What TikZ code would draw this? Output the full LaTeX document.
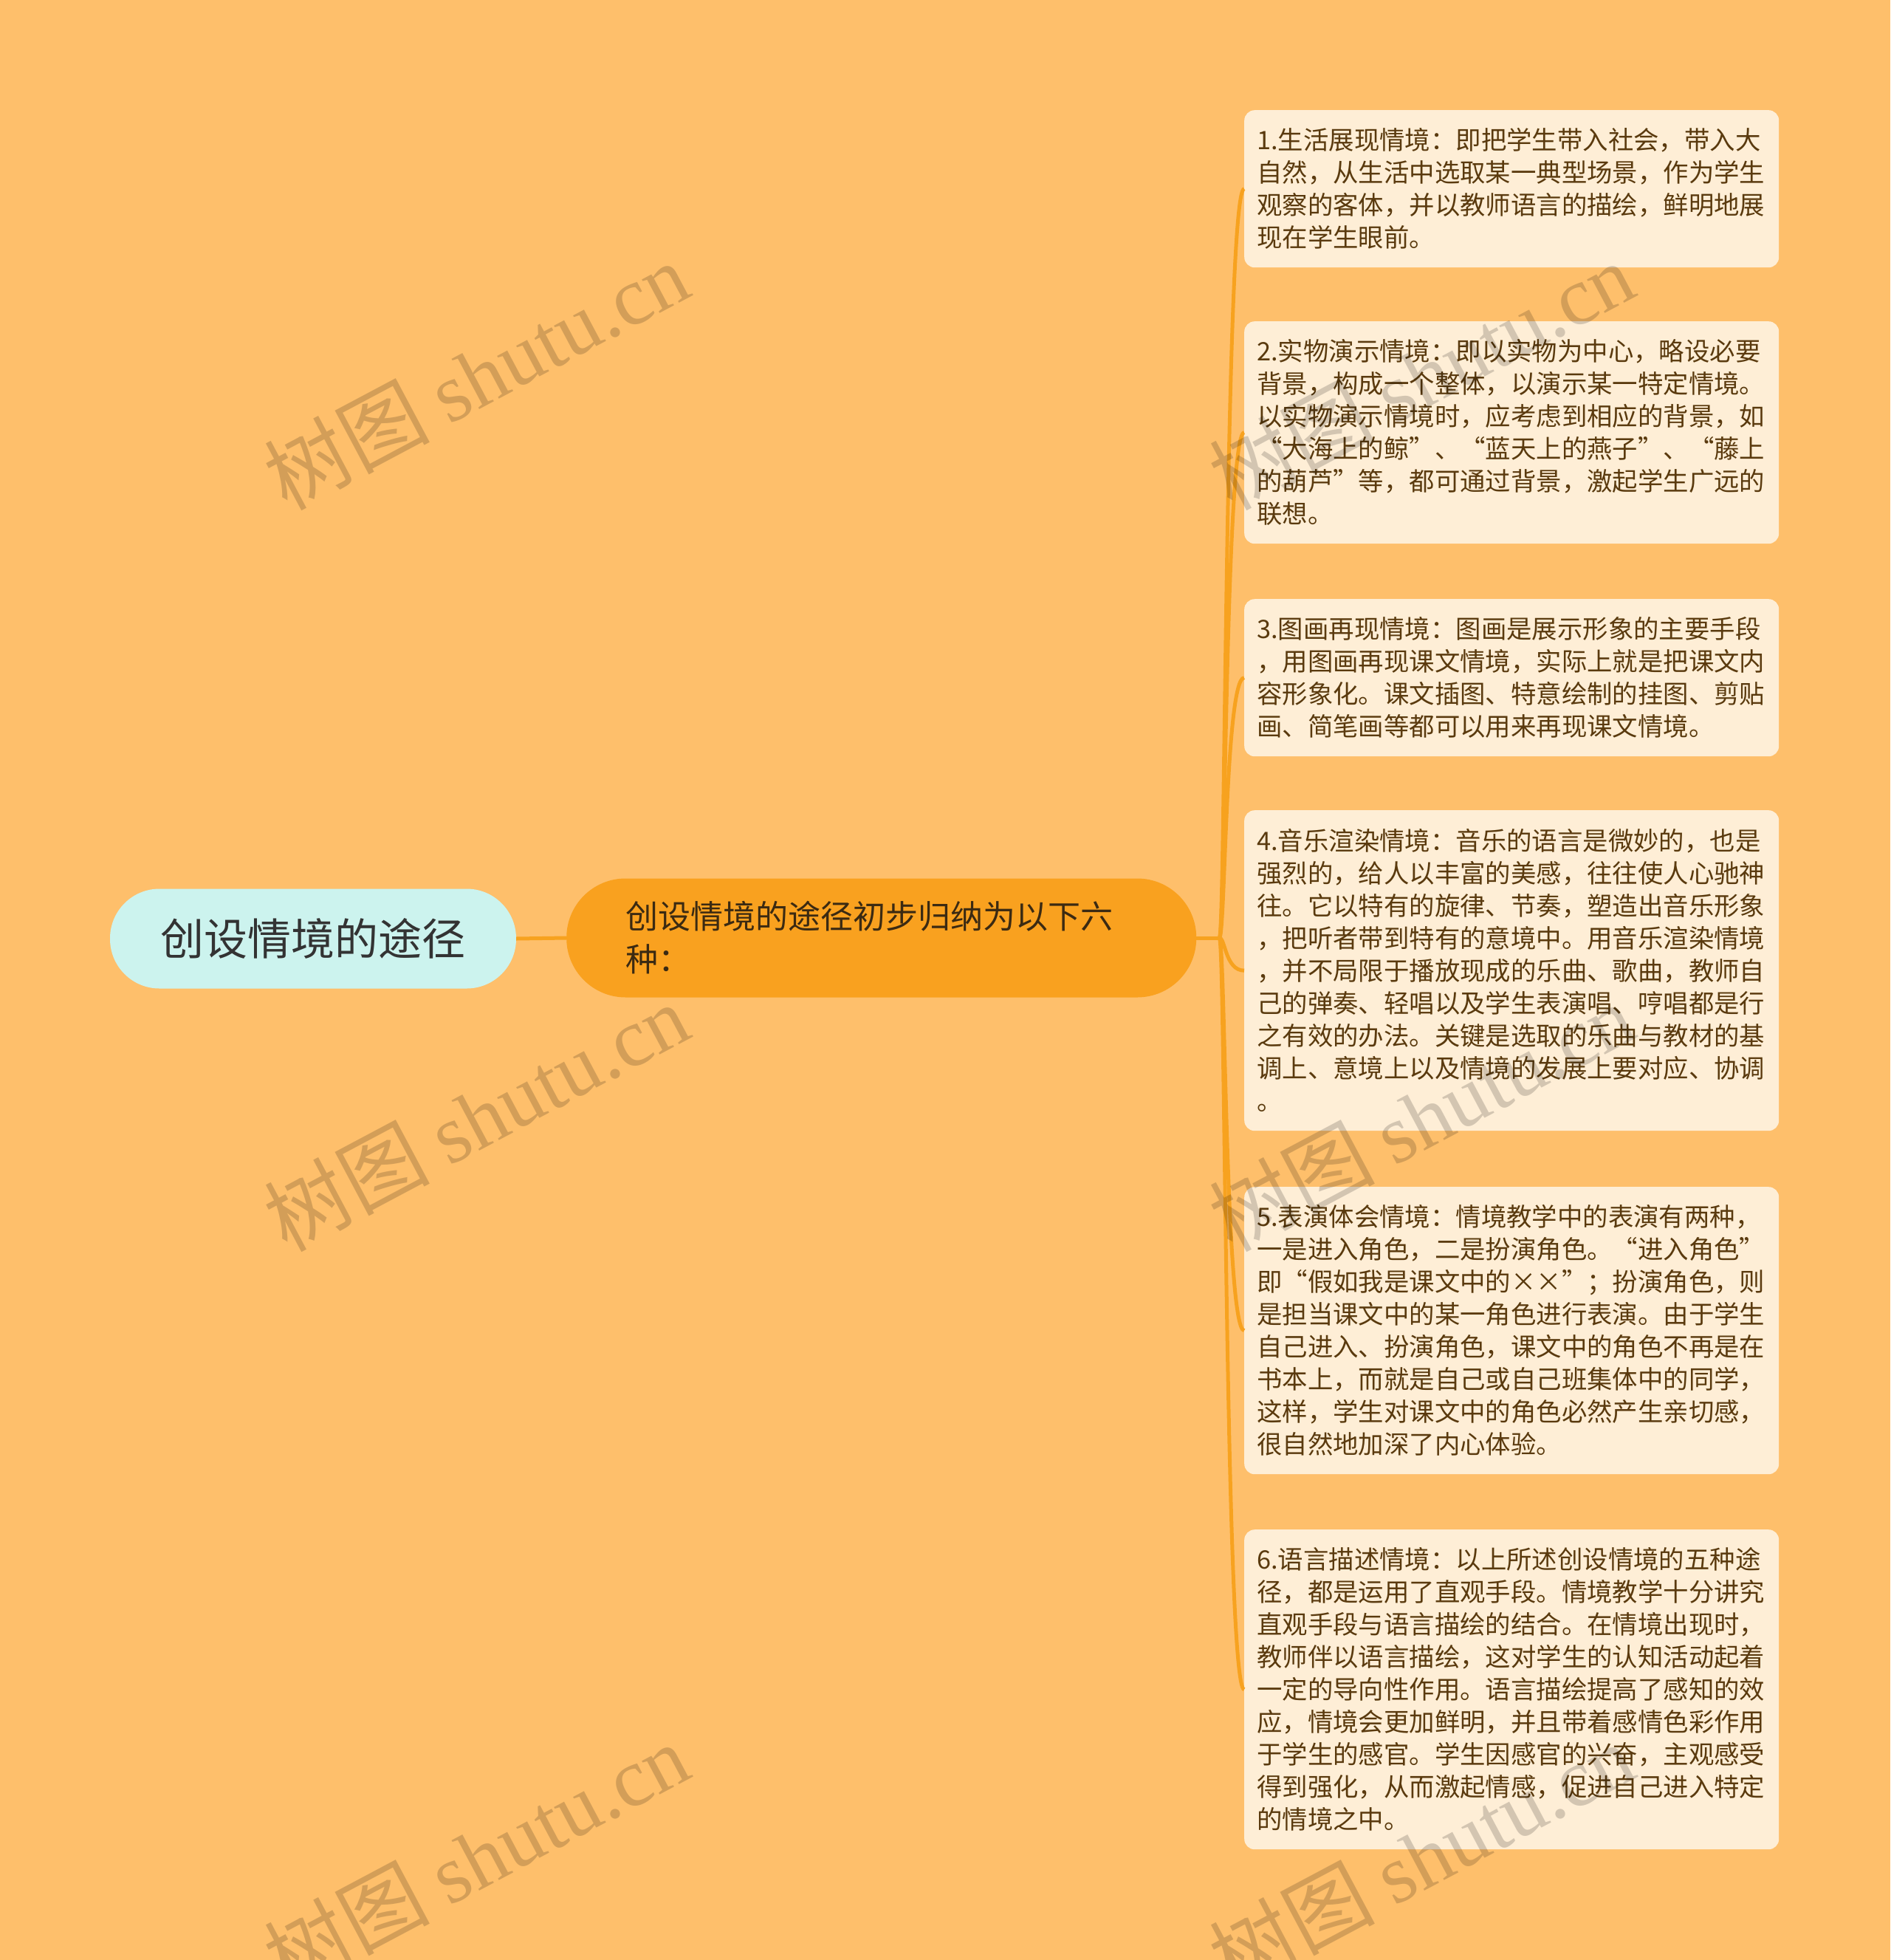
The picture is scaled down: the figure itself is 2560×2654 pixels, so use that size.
\documentclass[tikz,border=0pt]{standalone}
\usepackage{fontspec}
\setmainfont{Noto Sans CJK SC}
\newfontfamily\wmlatin{Liberation Serif}
\usetikzlibrary{calc}
\definecolor{bgc}{HTML}{FEBF6B}
\definecolor{midfill}{HTML}{F9A11F}
\definecolor{conn}{HTML}{F7A21F}
\definecolor{leaffill}{HTML}{FEEED6}
\definecolor{leaftext}{HTML}{5A3A0E}
\definecolor{rootfill}{HTML}{CCF3EE}
\definecolor{roottext}{HTML}{333333}
\definecolor{midtext}{HTML}{3B2A12}
\begin{document}
\begin{tikzpicture}[x=1pt,y=-1pt,
  leaf/.style={fill=leaffill, rounded corners=14pt, text width=690pt, inner xsep=17pt, inner ysep=0pt,
    align=left, font=\fontsize{34.4}{44}\selectfont, text=leaftext, anchor=north west},
  rootbox/.style={fill=rootfill, rounded corners=67pt, minimum width=550pt, minimum height=135pt,
    inner sep=0pt, font=\fontsize{59}{70}\selectfont, text=roottext},
  midbox/.style={fill=midfill, rounded corners=80pt, text width=693pt, inner xsep=80pt, inner ysep=0pt,
    minimum height=161pt, align=left, font=\fontsize{44}{58}\selectfont, text=midtext, anchor=west},
  link/.style={draw=conn, line width=5pt},
  wm/.style={rotate=28, text=black, text opacity=0.17, font=\fontsize{112}{120}\selectfont, inner sep=0pt}
]
\fill[bgc] (0,0) rectangle (2560,2654);
\useasboundingbox (0,0) rectangle (2560,2654);

% nodes
\node[rootbox] (root) at (424,1271) {创设情境的途径};
\node[midbox] (mid) at (767,1270) {创设情境的途径初步归纳为以下六\\种：};

\node[leaf, minimum height=213pt] (l1) at (1685,149) {1.生活展现情境：即把学生带入社会，带入大\\自然，从生活中选取某一典型场景，作为学生\\观察的客体，并以教师语言的描绘，鲜明地展\\现在学生眼前。};
\node[leaf, minimum height=301pt] (l2) at (1685,435) {2.实物演示情境：即以实物为中心，略设必要\\背景，构成一个整体，以演示某一特定情境。\\以实物演示情境时，应考虑到相应的背景，如\\“大海上的鲸”、“蓝天上的燕子”、“藤上\\的葫芦”等，都可通过背景，激起学生广远的\\联想。};
\node[leaf, minimum height=213pt] (l3) at (1685,811) {3.图画再现情境：图画是展示形象的主要手段\\，用图画再现课文情境，实际上就是把课文内\\容形象化。课文插图、特意绘制的挂图、剪贴\\画、简笔画等都可以用来再现课文情境。};
\node[leaf, minimum height=434pt] (l4) at (1685,1097) {4.音乐渲染情境：音乐的语言是微妙的，也是\\强烈的，给人以丰富的美感，往往使人心驰神\\往。它以特有的旋律、节奏，塑造出音乐形象\\，把听者带到特有的意境中。用音乐渲染情境\\，并不局限于播放现成的乐曲、歌曲，教师自\\己的弹奏、轻唱以及学生表演唱、哼唱都是行\\之有效的办法。关键是选取的乐曲与教材的基\\调上、意境上以及情境的发展上要对应、协调\\。};
\node[leaf, minimum height=389pt] (l5) at (1685,1607) {5.表演体会情境：情境教学中的表演有两种，\\一是进入角色，二是扮演角色。“进入角色”\\即“假如我是课文中的××”；扮演角色，则\\是担当课文中的某一角色进行表演。由于学生\\自己进入、扮演角色，课文中的角色不再是在\\书本上，而就是自己或自己班集体中的同学，\\这样，学生对课文中的角色必然产生亲切感，\\很自然地加深了内心体验。};
\node[leaf, minimum height=433pt] (l6) at (1685,2071) {6.语言描述情境：以上所述创设情境的五种途\\径，都是运用了直观手段。情境教学十分讲究\\直观手段与语言描绘的结合。在情境出现时，\\教师伴以语言描绘，这对学生的认知活动起着\\一定的导向性作用。语言描绘提高了感知的效\\应，情境会更加鲜明，并且带着感情色彩作用\\于学生的感官。学生因感官的兴奋，主观感受\\得到强化，从而激起情感，促进自己进入特定\\的情境之中。};

% connectors
\coordinate (j) at ($(mid.east)+(31,0)$);
\draw[link] (root.east) -- (mid.west);
\draw[link] (mid.east) -- (j);
\foreach \n in {l1,l2,l3,l4,l5,l6}{
  \draw[link] (j) .. controls ($(j)+(8,0)$) and ($(j |- \n.west)+(8,0)$) .. (\n.west);
}

% watermarks
\node[wm] (wm1) at (645,508) {树图 {\wmlatin shutu.cn}};
\node[wm] (wm2) at (645,1512) {树图 {\wmlatin shutu.cn}};
\node[wm] (wm3) at (645,2514) {树图 {\wmlatin shutu.cn}};
\node[wm] (wm4) at (1925,508) {树图 {\wmlatin shutu.cn}};
\node[wm] (wm5) at (1925,1512) {树图 {\wmlatin shutu.cn}};
\node[wm] (wm6) at (1925,2514) {树图 {\wmlatin shutu.cn}};
\end{tikzpicture}
\end{document}
